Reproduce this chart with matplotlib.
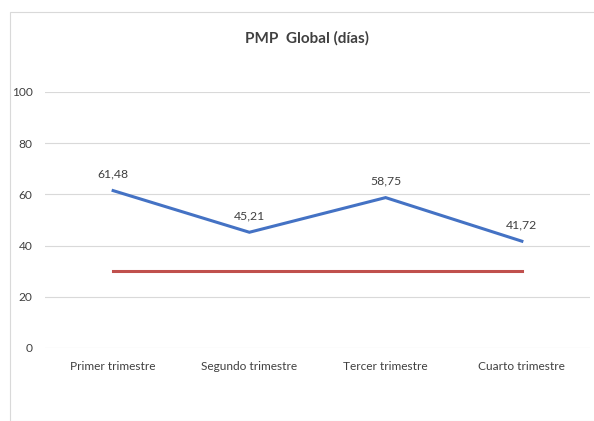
import matplotlib.pyplot as plt
from matplotlib.patches import Rectangle

plt.rcParams['font.family'] = ['Lato', 'DejaVu Sans']

trimestres = ['Primer trimestre', 'Segundo trimestre', 'Tercer trimestre', 'Cuarto trimestre']
pmp = [61.48, 45.21, 58.75, 41.72]
objetivo = [30, 30, 30, 30]
etiquetas = ['61,48', '45,21', '58,75', '41,72']

fig = plt.figure(figsize=(5.94, 4.21), dpi=100)
fig.patches.append(Rectangle((10 / 594, 0), 1, 1 - 12 / 421, transform=fig.transFigure,
                             fill=False, edgecolor='#d9d9d9', linewidth=0.8))

ax = fig.add_axes([45 / 594, 73 / 421, 545 / 594, 256 / 421])
x = range(len(trimestres))
ax.plot(x, pmp, color='#4472c4', linewidth=2.2, solid_joinstyle='miter')
ax.plot(x, objetivo, color='#c0504d', linewidth=2.2)

for i, (v, t) in enumerate(zip(pmp, etiquetas)):
    ax.annotate(t, (i, v), xytext=(0, 8), textcoords='offset points',
                ha='center', va='bottom', fontsize=8.8, color='#404040')

ax.set_xlim(-0.5, 3.5)
ax.set_ylim(0, 100)
ax.set_yticks(range(0, 101, 20))
ax.set_xticks(list(x))
ax.set_xticklabels(trimestres)
ax.grid(axis='y', color='#d9d9d9', linewidth=0.8)
ax.set_axisbelow(True)
for s in ax.spines.values():
    s.set_visible(False)
ax.tick_params(length=0, labelsize=8.6, labelcolor='#404040')
ax.tick_params(axis='y', pad=9)
ax.tick_params(axis='x', pad=9)

fig.text(307 / 594, 1 - 38 / 421, 'PMP  Global (días)', ha='center', va='center',
         fontsize=11, fontweight='bold', color='#404040')

fig.savefig('out.png', dpi=100)
